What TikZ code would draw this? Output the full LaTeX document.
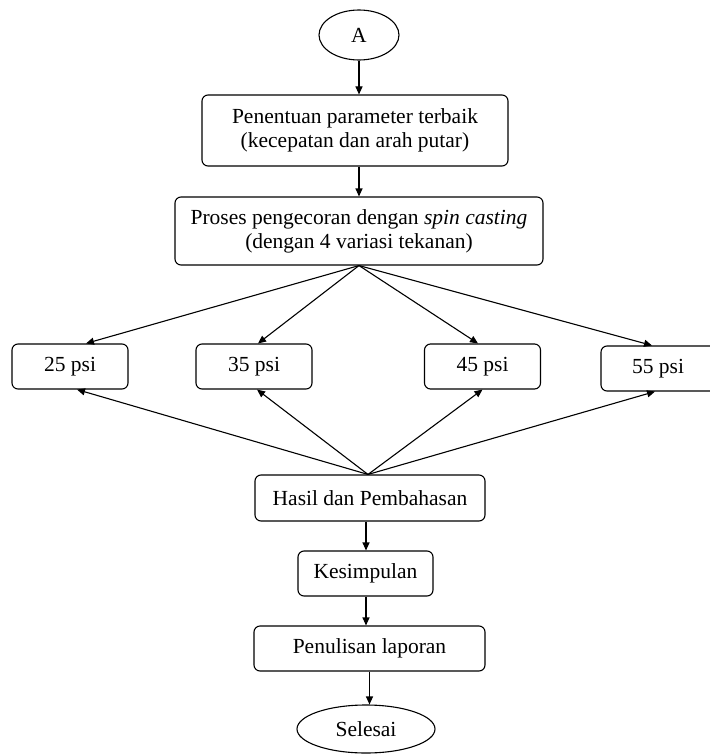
\documentclass[tikz,border=0pt]{standalone}
\usepackage{fontspec}
\setmainfont{Liberation Serif}
\usetikzlibrary{arrows.meta, positioning, shapes.geometric}

\begin{document}
\begin{tikzpicture}[x=1pt, y=-1pt, line width=1.1pt,
    font=\fontsize{21.5}{24}\selectfont,
    box/.style={draw, rounded corners=6pt, align=center, inner sep=0pt},
    psibox/.style={box, minimum width=116, minimum height=45},
    term/.style={draw, ellipse, inner sep=0pt},
    flow/.style={-{Triangle[length=8pt, width=7pt]}}]
    \useasboundingbox (0,0) rectangle (709,754);

    % Nodes
    \node[term, minimum width=80, minimum height=50] (A) at (359,35) {A};
    \node[box, minimum width=306, minimum height=71] (param) at (355,130.5)
        {Penentuan parameter terbaik\\(kecepatan dan arah putar)};
    \node[box, minimum width=368, minimum height=68] (proses) at (359,231)
        {Proses pengecoran dengan \textit{spin casting}\\(dengan 4 variasi tekanan)};
    \node[psibox] (p25) at (70,366.5) {25 psi};
    \node[psibox] (p35) at (254,366.5) {35 psi};
    \node[psibox] (p45) at (482.5,366.5) {45 psi};
    \node[psibox, minimum width=124] (p55) at (663,368.5) {\hspace*{-10pt}55 psi};
    \node[box, minimum width=230, minimum height=46] (hasil) at (370,498) {Hasil dan Pembahasan};
    \node[box, minimum width=135, minimum height=45] (simpul) at (365.5,573.5) {Kesimpulan};
    \node[box, minimum width=231, minimum height=45] (tulis) at (369.5,648.5) {Penulisan laporan};
    \node[term, minimum width=138, minimum height=48] (selesai) at (366,729) {Selesai};

    % Edges
    \draw[flow] (A.south) -- (A.south |- param.north);
    \draw[flow] (proses.north |- param.south) -- (proses.north);
    \foreach \p/\dtop/\dbot in {p25/16/7, p35/4/3, p45/-4.5/0, p55/-11/-8} {
        \draw[flow] (proses.south) -- ([xshift=\dtop]\p.north);
        \draw[flow] ([xshift=-2]hasil.north) -- ([xshift=\dbot]\p.south);
    }
    \draw[flow] ([xshift=-4]hasil.south) -- ([xshift=0.5]simpul.north);
    \draw[flow] ([xshift=0.5]simpul.south) -- ([xshift=-3.5]tulis.north);
    \draw[flow] (tulis.south) -- (tulis.south |- selesai.north);
\end{tikzpicture}
\end{document}
